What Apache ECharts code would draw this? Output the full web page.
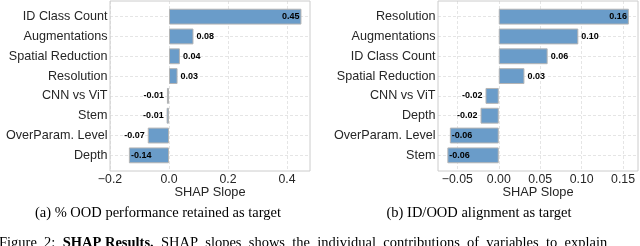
<!DOCTYPE html>
<html><head><meta charset="utf-8">
<script src="https://cdn.jsdelivr.net/npm/echarts@6/dist/echarts.min.js"></script>
<style>html,body{margin:0;padding:0;background:#fff}#c{width:640px;height:246px}</style>
</head><body><div id="c"></div>
<script>
// ---- data ----
const catsA = ['ID Class Count','Augmentations','Spatial Reduction','Resolution','CNN vs ViT','Stem','OverParam. Level','Depth'];
const valsA = [0.449, 0.083, 0.037, 0.029, -0.007, -0.008, -0.072, -0.136];
const ticksA = [-0.2, 0.0, 0.2, 0.4];
const catsB = ['Resolution','Augmentations','ID Class Count','Spatial Reduction','CNN vs ViT','Depth','OverParam. Level','Stem'];
const valsB = [0.157, 0.096, 0.059, 0.031, -0.016, -0.022, -0.059, -0.062];
const ticksB = [-0.05, 0.00, 0.05, 0.10, 0.15];
const axisTitle = 'SHAP Slope';
const captionA = '(a) % OOD performance retained as target';
const captionB = '(b) ID/OOD alignment as target';
const figPrefix = 'Figure 2: ';
const figBold = 'SHAP Results.';
const figRest = ' SHAP slopes shows the individual contributions of variables to explain';

// ---- layout ----
const panels = [
  {cats: catsA, vals: valsA, ticks: ticksA, xlim: [-0.2, 0.478], dec: 1, box: {l: 110, r: 310, t: 1, b: 171}, caption: captionA},
  {cats: catsB, vals: valsB, ticks: ticksB, xlim: [-0.0733, 0.168], dec: 2, box: {l: 438, r: 638, t: 1, b: 171}, caption: captionB}
];
const FONT = 'Liberation Sans';
const SERIF = 'Liberation Serif';
const barColor = '#6a9cc9';
const gridColor = '#dedede';
const textColor = '#262626';

const ctx = document.createElement('canvas').getContext('2d');
ctx.font = 'bold 9px "' + FONT + '"';
const fmtBar = v => v.toFixed(2);
const justify = s => s.replace(/ /g, '\u2002');

const grid = [], xAxis = [], yAxis = [], series = [], graphic = [];
panels.forEach((p, i) => {
  const {l, r, t, b} = p.box;
  const n = p.cats.length;
  const pad = 0.4 + 0.05 * (n - 1 + 0.8);
  const pitch = (b - t) / (n - 1 + 2 * pad);
  const scale = (r - l) / (p.xlim[1] - p.xlim[0]);
  const px = v => l + (v - p.xlim[0]) * scale;
  const base = grid.length;
  // frame grid
  grid.push({left: l, top: t, width: r - l, height: b - t, show: true, borderColor: '#cccccc', borderWidth: 1, backgroundColor: 'transparent', z: 10});
  // tick grid
  const t0 = p.ticks[0], tN = p.ticks[p.ticks.length - 1];
  const step = +(p.ticks[1] - p.ticks[0]).toFixed(6);
  grid.push({left: px(t0), top: t, width: px(tN) - px(t0), height: b - t, show: false});
  xAxis.push({gridIndex: base + 1, type: 'value', min: t0, max: tN, interval: step,
    axisLine: {show: false}, axisTick: {show: false},
    axisLabel: {margin: 3, fontSize: 12.3, color: textColor, fontFamily: FONT,
      formatter: v => (v < -1e-9 ? '\u2212' : '') + Math.abs(v).toFixed(p.dec)},
    splitLine: {show: true, lineStyle: {color: gridColor, type: [3, 2], width: 0.8}}});
  yAxis.push({gridIndex: base + 1, type: 'value', show: false, min: 0, max: 1});
  // bar grid
  grid.push({left: l, top: t + pad * pitch, width: r - l, height: (n - 1) * pitch, show: false});
  xAxis.push({gridIndex: base + 2, type: 'value', min: p.xlim[0], max: p.xlim[1], show: false, splitLine: {show: false}});
  yAxis.push({gridIndex: base + 2, type: 'category', data: p.cats, inverse: true, boundaryGap: false,
    axisLine: {show: false}, axisTick: {show: false},
    axisLabel: {margin: 2.5, fontSize: 12.6, color: textColor, fontFamily: FONT},
    splitLine: {show: true, lineStyle: {color: gridColor, type: [3, 2], width: 0.8}}});
  const data = p.vals.map(v => {
    const w = ctx.measureText(fmtBar(v)).width;
    const end = v >= 0 ? px(v) + 3 + w : px(v) - 3 - w;
    const inside = end > r - 1 || end < l + 1;
    const pos = v >= 0 ? (inside ? 'insideRight' : 'right') : (inside ? 'insideLeft' : 'left');
    return {value: v, label: {position: pos, distance: inside ? 2 : 3}};
  });
  series.push({type: 'bar', xAxisIndex: xAxis.length - 1, yAxisIndex: yAxis.length - 1,
    data: data, barCategoryGap: '20%', clip: false,
    itemStyle: {color: barColor, borderColor: '#b4b4b4', borderWidth: 1},
    label: {show: true, formatter: d => fmtBar(d.value), fontSize: 9, fontWeight: 'bold', color: '#000', fontFamily: FONT},
    z: 5});
  graphic.push({type: 'text', x: (l + r) / 2, y: 192,
    style: {text: axisTitle, font: '12.8px "' + FONT + '"', fill: textColor, align: 'center', verticalAlign: 'middle', textAlign: 'center', textVerticalAlign: 'middle'}});
  graphic.push({type: 'text', x: i === 0 ? 158 : 479, y: 213,
    style: {text: p.caption, font: '14.5px "' + SERIF + '"', fill: '#000', align: 'center', verticalAlign: 'middle', textAlign: 'center', textVerticalAlign: 'middle'}});
});
graphic.push({type: 'text', x: -1, y: 236,
  style: {text: '{n|' + justify(figPrefix) + '}{b|' + figBold + '}{n|' + justify(figRest) + '}',
    font: '14.5px "' + SERIF + '"', fill: '#000', align: 'left', verticalAlign: 'top', textAlign: 'left', textVerticalAlign: 'top',
    rich: {n: {fontFamily: SERIF, fontSize: 14.5, color: '#000'}, b: {fontFamily: SERIF, fontSize: 14.5, fontWeight: 'bold', color: '#000'}}}});

const chart = echarts.init(document.getElementById('c'), null, {renderer: 'canvas'});
chart.setOption({
  animation: false,
  backgroundColor: '#ffffff',
  textStyle: {fontFamily: FONT},
  grid, xAxis, yAxis, series, graphic
});
</script>
</body></html>
